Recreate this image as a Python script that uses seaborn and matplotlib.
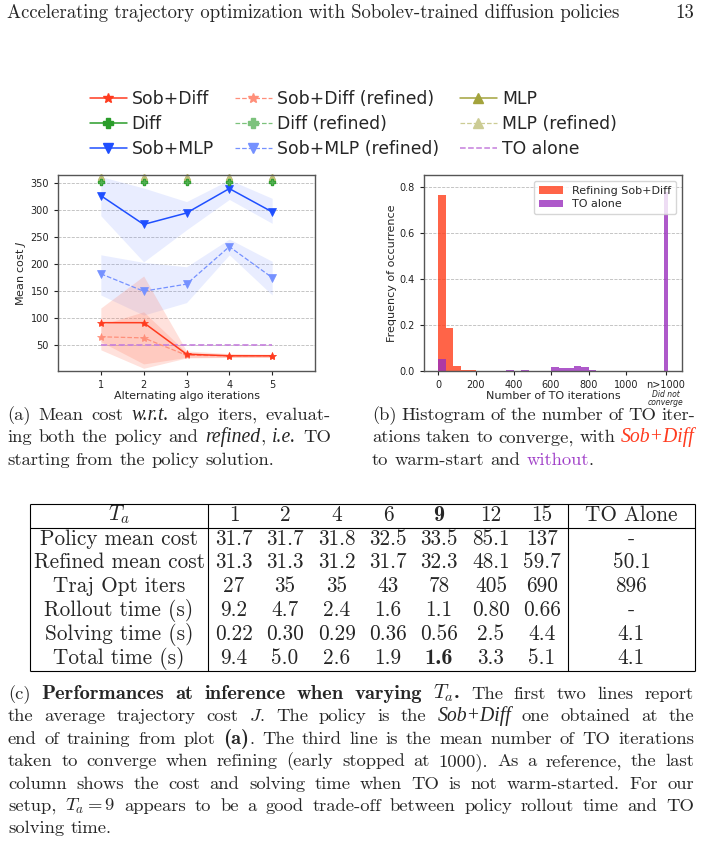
import matplotlib
matplotlib.use('Agg')
import matplotlib.pyplot as plt
from matplotlib.lines import Line2D
import seaborn as sns

# ---- data ----
iters = [1, 2, 3, 4, 5]

sob_diff = [92, 92, 34, 31, 31]
sob_diff_lo = [57, 16, 28, 28, 28]
sob_diff_hi = [119, 178, 40, 35, 34]
sob_diff_ref = [66, 64, 32, 31, 31]
sob_diff_ref_lo = [42, 8, 27, 28, 28]
sob_diff_ref_hi = [88, 112, 37, 34, 33]

sob_mlp = [326, 273, 294, 339, 296]
sob_mlp_lo = [289, 204, 263, 319, 275]
sob_mlp_hi = [361, 340, 315, 355, 321]
sob_mlp_ref = [182, 150, 163, 232, 175]
sob_mlp_ref_lo = [143, 106, 129, 217, 143]
sob_mlp_ref_hi = [217, 203, 195, 246, 205]

# off the top of the axis, drawn at the edge
diff_cost = [351, 351, 351, 351, 351]
mlp_cost = [360, 360, 360, 360, 360]
to_alone_cost = [50.1, 50.1, 50.1, 50.1, 50.1]

# histogram of TO iterations (bins of 40 from 0 to 1000, plus the n>1000 bin)
bin_edges = [0, 40, 80, 120, 160, 200, 240, 280, 320, 360, 400, 440, 480, 520,
             560, 600, 640, 680, 720, 760, 800, 840, 880, 920, 960, 1000]
freq_sobdiff = [0.765, 0.187, 0.020, 0.006, 0.003, 0.002, 0.001, 0, 0, 0, 0, 0, 0,
                0, 0, 0, 0, 0, 0, 0, 0, 0, 0, 0, 0]
freq_to = [0.050, 0, 0, 0, 0, 0.002, 0.002, 0, 0, 0.004, 0, 0.004, 0, 0, 0,
           0.018, 0.015, 0.012, 0.022, 0.017, 0.005, 0.001, 0, 0, 0.002]
over_edges = [1200, 1225]
over_sobdiff = [0.002]
over_to = [0.775]
hist_ticks = [0, 200, 400, 600, 800, 1000, 1212]
hist_ticklabels = ['0', '200', '400', '600', '800', '1000', 'n>1000']

# table
tab_cols = ['1', '2', '4', '6', '9', '12', '15']
tab_rows = ['Policy mean cost', 'Refined mean cost', 'Traj Opt iters',
            'Rollout time (s)', 'Solving time (s)', 'Total time (s)']
tab_vals = [
    ['31.7', '31.7', '31.8', '32.5', '33.5', '85.1', '137'],
    ['31.3', '31.3', '31.2', '31.7', '32.3', '48.1', '59.7'],
    ['27', '35', '35', '43', '78', '405', '690'],
    ['9.2', '4.7', '2.4', '1.6', '1.1', '0.80', '0.66'],
    ['0.22', '0.30', '0.29', '0.36', '0.56', '2.5', '4.4'],
    ['9.4', '5.0', '2.6', '1.9', '1.6', '3.3', '5.1'],
]
tab_alone = ['-', '50.1', '896', '-', '4.1', '4.1']

RED = '#ff3b1f'
RED_L = '#ff8f7a'
BLUE = '#1f4fff'
BLUE_L = '#7591ff'
GREEN = '#2a9d2a'
GREEN_L = '#7cc27c'
OLIVE = '#a3a33c'
OLIVE_L = '#cccc94'
PURPLE = '#c57fdd'
H_RED = '#ff3d1a'
H_PURPLE = '#9a2fbd'

sns.set_style('ticks')
plt.rcParams['font.family'] = ['DejaVu Sans']
plt.rcParams['axes.edgecolor'] = '#555555'

fig = plt.figure(figsize=(7.03, 8.43), dpi=100)
bg = fig.add_axes([0, 0, 1, 1])
bg.set_xlim(0, 703)
bg.set_ylim(843, 0)
bg.axis('off')

# ---------------- (a) ----------------
ax1 = fig.add_axes([58 / 703, 1 - 371 / 843, 257 / 703, 196 / 843])
ax1.fill_between(iters, sob_mlp_lo, sob_mlp_hi, color='#7d96ff', alpha=0.17, lw=0)
ax1.fill_between(iters, sob_mlp_ref_lo, sob_mlp_ref_hi, color='#7d96ff', alpha=0.17, lw=0)
ax1.fill_between(iters, sob_diff_lo, sob_diff_hi, color='#ff7a60', alpha=0.22, lw=0)
ax1.fill_between(iters, sob_diff_ref_lo, sob_diff_ref_hi, color='#ff7a60', alpha=0.22, lw=0)

sns.lineplot(x=iters, y=to_alone_cost, ax=ax1, color=PURPLE, ls='--', lw=1.2)
sns.lineplot(x=iters, y=sob_mlp_ref, ax=ax1, color=BLUE_L, ls='--', lw=0.9,
             marker='v', ms=5.5, mec=BLUE_L, mew=0.5)
sns.lineplot(x=iters, y=sob_mlp, ax=ax1, color=BLUE, lw=1.1,
             marker='v', ms=5.5, mec=BLUE, mew=0.5)
sns.lineplot(x=iters, y=sob_diff_ref, ax=ax1, color=RED_L, ls='--', lw=0.9,
             marker='*', ms=6, mec=RED_L, mew=0.5)
sns.lineplot(x=iters, y=sob_diff, ax=ax1, color=RED, lw=1.1,
             marker='*', ms=6, mec=RED, mew=0.5)
ax1.plot(iters, mlp_cost, ls='none', marker='^', ms=5, color=OLIVE, clip_on=False)
ax1.plot(iters, mlp_cost, ls='none', marker='^', ms=5, color=OLIVE_L, alpha=0.6, clip_on=False)
ax1.plot(iters, diff_cost, ls='none', marker='P', ms=5, color=GREEN, clip_on=False)
ax1.plot(iters, diff_cost, ls='none', marker='P', ms=5, color=GREEN_L, alpha=0.5,
         mec=GREEN, mew=0.6, clip_on=False)

ax1.set_xlim(0, 6)
ax1.set_ylim(3, 364)
ax1.set_xticks([1, 2, 3, 4, 5])
ax1.set_yticks([50, 100, 150, 200, 250, 300, 350])
ax1.grid(axis='y', ls='--', lw=0.6, color='#bbbbbb')
ax1.set_axisbelow(True)
ax1.tick_params(labelsize=7, length=3, width=0.8, colors='#222222')
ax1.set_xlabel('Alternating algo iterations', fontsize=8, labelpad=1)
ax1.set_ylabel('Mean cost $J$', fontsize=8, labelpad=2)
for s in ax1.spines.values():
    s.set_linewidth(1.0)

handles = [
    Line2D([], [], color=RED, marker='*', ms=7, lw=1.1),
    Line2D([], [], color=GREEN, marker='P', ms=6.5, lw=1.1),
    Line2D([], [], color=BLUE, marker='v', ms=6.5, lw=1.1),
    Line2D([], [], color=RED_L, marker='*', ms=7, lw=0.9, ls='--'),
    Line2D([], [], color=GREEN_L, marker='P', ms=6.5, lw=0.9, ls='--'),
    Line2D([], [], color=BLUE_L, marker='v', ms=6.5, lw=0.9, ls='--'),
    Line2D([], [], color=OLIVE, marker='^', ms=6.5, lw=1.1),
    Line2D([], [], color=OLIVE_L, marker='^', ms=6.5, lw=0.9, ls='--'),
    Line2D([], [], color=PURPLE, lw=1.1, ls='--'),
]
labels = ['Sob+Diff', 'Diff', 'Sob+MLP', 'Sob+Diff (refined)', 'Diff (refined)',
          'Sob+MLP (refined)', 'MLP', 'MLP (refined)', 'TO alone']
fig.legend(handles, labels, loc='upper left', bbox_to_anchor=(74 / 703, 1 - 74.5 / 843),
           ncol=3, frameon=False, fontsize=12.4, handlelength=2.15,
           columnspacing=1.2, labelspacing=0.4, handletextpad=0.3)

# ---------------- (b) ----------------
ax2 = fig.add_axes([424 / 703, 1 - 371 / 843, 258 / 703, 196 / 843])
centers = [e + 20 for e in bin_edges[:-1]]
sns.histplot(x=centers, weights=freq_sobdiff, bins=bin_edges, ax=ax2, color=H_RED,
             alpha=0.8, lw=0, edgecolor='none', label='Refining Sob+Diff')
sns.histplot(x=[1212], weights=over_sobdiff, bins=over_edges, ax=ax2, color=H_RED,
             alpha=0.8, lw=0, edgecolor='none')
sns.histplot(x=centers, weights=freq_to, bins=bin_edges, ax=ax2, color=H_PURPLE,
             alpha=0.8, lw=0, edgecolor='none', label='TO alone')
sns.histplot(x=[1212], weights=over_to, bins=over_edges, ax=ax2, color=H_PURPLE,
             alpha=0.8, lw=0, edgecolor='none')
ax2.set_xlim(-77, 1298)
ax2.set_ylim(0, 0.85)
ax2.set_xticks(hist_ticks)
ax2.set_xticklabels(hist_ticklabels)
ax2.set_yticks([0, 0.2, 0.4, 0.6, 0.8])
ax2.grid(axis='y', ls='--', lw=0.6, color='#bbbbbb')
ax2.set_axisbelow(True)
ax2.tick_params(labelsize=7, length=3, width=0.8, colors='#222222')
ax2.set_xlabel('Number of TO iterations', fontsize=8, labelpad=1)
ax2.set_ylabel('Frequency of occurrence', fontsize=8, labelpad=2)
ax2.text(1212, -0.097, 'Did not\nconverge', transform=ax2.get_xaxis_transform(),
         ha='center', va='top', fontsize=5.5, style='italic', linespacing=0.85)
ax2.legend(loc='upper right', fontsize=8, frameon=True, fancybox=True,
           handlelength=2.2, borderpad=0.45, labelspacing=0.35)
for s in ax2.spines.values():
    s.set_linewidth(1.0)

# ---------------- page text ----------------
rend = fig.canvas.get_renderer()
FS = 13.4
R = dict(family='cmr10', size=FS, math_fontfamily='cm')
B = dict(family='cmb10', size=FS * 1.1, math_fontfamily='cm')
I = dict(family='Liberation Serif', style='italic', size=FS * 1.06)
SP = 0.333 * FS * 100 / 72


def words(s, st):
    return [(w, st, False) for w in s.split(' ')]


def put(tokens, y, x0, x1=None):
    arts = [(bg.text(x0, y, t, va='baseline', ha='left', **st), g) for t, st, g in tokens]
    ws = [a.get_window_extent(rend).width for a, g in arts]
    ngaps = sum(1 for a, g in arts[1:] if not g)
    gap = SP if x1 is None else (x1 - x0 - sum(ws)) / ngaps
    x = x0
    for i, ((a, g), w) in enumerate(zip(arts, ws)):
        if i > 0 and not g:
            x += gap
        a.set_x(x)
        x += w


HS = dict(R, size=13.5)
bg.text(7, 18, 'Accelerating trajectory optimization with Sobolev-trained diffusion policies',
        va='baseline', ha='left', **HS)
bg.text(694, 18, '13', va='baseline', ha='right', **HS)

# caption (a)
ya = [420, 442.3, 464.6]
put(words('(a) Mean cost', R) + [('w.r.t.', I, False)] + words('algo iters, evaluat-', R),
    ya[0], 7, 331)
put(words('ing both the policy and', R) + [('refined', I, False), (',', R, True),
                                          ('i.e.', I, False), ('TO', R, False)],
    ya[1], 7, 331)
put(words('starting from the policy solution.', R), ya[2], 7)

# caption (b)
RC = dict(I, color=RED)
PC = dict(R, color='#a040c8')
put(words('(b) Histogram of the number of TO iter-', R), ya[0], 372, 695)
put(words('ations taken to converge, with', R) + [('Sob+Diff', RC, False)],
    ya[1], 372, 695)
put(words('to warm-start and', R) + [('without', PC, False), ('.', R, True)], ya[2], 372)

# table
TS = 15.3
TR = dict(family='cmr10', size=TS, math_fontfamily='cm')
TB = dict(family='cmb10', size=TS * 1.05, math_fontfamily='cm')
tx0, tsep1, tsep2, tx1 = 30, 208, 568, 695
ttop, thead, tbot = 504, 527.8, 670.8
lk = dict(color='black', lw=0.8, solid_capstyle='butt')
for yy in (ttop, thead, tbot):
    bg.plot([tx0, tx1], [yy, yy], **lk)
for xx in (tx0, tsep1, tsep2, tx1):
    bg.plot([xx, xx], [ttop, tbot], **lk)
col_x = [234, 285, 337, 388, 439, 491, 542]
lab_x = (tx0 + tsep1) / 2
alone_x = (tsep2 + tx1) / 2
base = [520.6, 544.6, 568.4, 592.2, 616.0, 639.8, 663.6]
bg.text(lab_x, base[0], '$T_a$', ha='center', va='baseline', **TR)
for c, x in zip(tab_cols, col_x):
    bg.text(x, base[0], c, ha='center', va='baseline', **(TB if c == '9' else TR))
bg.text(alone_x, base[0], 'TO Alone', ha='center', va='baseline', **TR)
for i, (name, row, alone) in enumerate(zip(tab_rows, tab_vals, tab_alone)):
    y = base[i + 1]
    bg.text(lab_x, y, name, ha='center', va='baseline', **TR)
    for j, (v, x) in enumerate(zip(row, col_x)):
        bold = (name == 'Total time (s)' and tab_cols[j] == '9')
        bg.text(x, y, v, ha='center', va='baseline', **(TB if bold else TR))
    bg.text(alone_x, y, alone, ha='center', va='baseline', **TR)

# caption (c)
yc = [699 + 22.4 * k for k in range(7)]
put([('(c)', R, False)] + words(r'Performances at inference when varying $T_a$.', B)
    + words('The first two lines report', R), yc[0], 8, 694)
put(words('the average trajectory cost $J$. The policy is the', R) + [('Sob+Diff', I, False)]
    + words('one obtained at the', R), yc[1], 8, 694)
put(words('end of training from plot', R) + [('(a)', B, False), ('.', R, True)]
    + words('The third line is the mean number of TO iterations', R), yc[2], 8, 694)
put(words('taken to converge when refining (early stopped at 1000). As a reference, the last', R),
    yc[3], 8, 694)
put(words('column shows the cost and solving time when TO is not warm-started. For our', R),
    yc[4], 8, 694)
put(words(r'setup, $T_a=9$ appears to be a good trade-off between policy rollout time and TO', R),
    yc[5], 8, 694)
put(words('solving time.', R), yc[6], 8)

fig.savefig('out.png', dpi=100)
